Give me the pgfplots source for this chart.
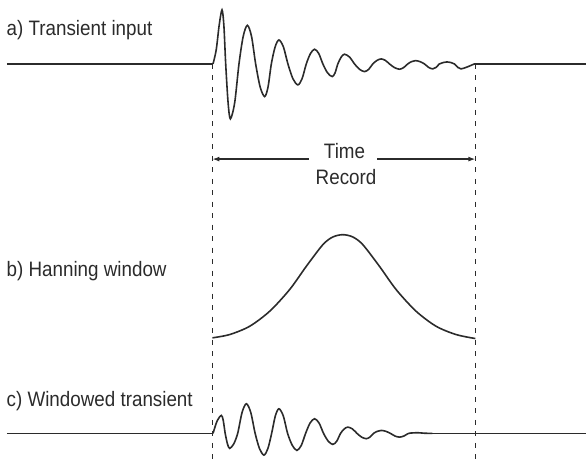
\documentclass[border=0pt]{standalone}
\usepackage{pgfplots}
\pgfplotsset{compat=1.18}
\usepackage{fontspec}
\setmainfont[FakeStretch=0.9]{Liberation Sans}
\usetikzlibrary{arrows.meta}
\definecolor{ink}{HTML}{2B2B2B}

\begin{document}
\begin{tikzpicture}
\begin{axis}[
    hide axis, scale only axis,
    width=587bp, height=466bp,
    xmin=0, xmax=587, ymin=0, ymax=466,
    y dir=reverse, clip=false,
    curve/.style={ink, line width=1.6bp, mark=none, solid},
    guide/.style={ink, line width=1.5bp, mark=none, dash pattern=on 5bp off 6.5bp},
]
% frame for the bounding box
\path (axis cs:0,0) rectangle (axis cs:587,466);

% dashed markers of the time record
\addplot[guide] coordinates {(212.7,64) (212.7,466)};
\addplot[guide] coordinates {(476,64) (476,466)};

% a) transient input
\addplot[curve] coordinates {(7,64) (213.3,64)};
\addplot[curve, smooth] coordinates {
    (213.3,64) (216.5,50) (219.5,25) (222.3,10) (224.2,25.8) (226,64)
    (228.4,102.9) (230.7,119) (235,102.9) (239.3,64)
    (243.5,36.6) (247.7,25.3) (251.9,36.6) (256,64)
    (260.5,87.1) (265,96.7) (268.4,87.1) (271.7,64)
    (275.5,47) (279.3,40) (283.8,47) (288.3,64)
    (293.3,78.8) (298.3,85) (302.5,78.8) (306.7,64)
    (310.9,53.6) (315,49.3) (319.2,53.6) (323.3,64)
    (328,73) (332.7,76.7) (335.5,73) (338.3,64)
    (341.7,57.1) (345,54.3) (350,57.1) (355,64)
    (360,69.4) (365,71.7) (369.2,69.4) (373.3,64)
    (377.5,60.5) (381.7,59) (385.9,60.5) (390,64)
    (395,67.7) (400,69.3) (404.2,67.7) (408.3,64)
    (412.2,61.7) (416,60.7) (420.5,61.7) (425,64)
    (429.2,67.5) (433.3,69) (436.7,67.5) (440,64)
    (443.9,62.6) (447.7,62) (451.4,62.6) (455,64)
    (458.4,67.5) (461.7,69) (468,67) (475,64)
};
\addplot[curve] coordinates {(475,64) (587,64)};

% b) Hanning window
\addplot[curve, smooth] coordinates {
    (212.7,338.3) (230,335) (250,326.7) (270,311.7) (290,290) (306.7,266.7)
    (323.3,245) (333.3,237.3) (343.3,235) (353.3,237.3) (363.3,245)
    (380,266.7) (396.7,290) (416.7,311.7) (436.7,326.7) (456.7,335) (476,339)
};

% c) windowed transient
\addplot[curve] coordinates {(7,434) (213.3,434)};
\addplot[curve, smooth] coordinates {
    (213.3,434) (217.5,421.3) (221.7,416) (223.6,421.3) (225.5,434)
    (227.8,444.6) (230,449) (234,444.6) (238,434)
    (242.4,413) (246.7,404.3) (251.1,413) (255.5,434)
    (259.9,449.3) (264.3,455.7) (268.2,449.3) (272,434)
    (275.7,416.5) (279.3,409.3) (283.7,416.5) (288,434)
    (292.7,446) (297.3,451) (301.7,446) (306,434)
    (310.5,423.6) (315,419.3) (319.5,423.6) (324,434)
    (328.7,441.8) (333.3,445) (337.2,441.8) (341,434)
    (344.7,429.5) (348.3,427.7) (352.9,429.5) (357.5,434)
    (362.1,437.7) (366.7,439.3) (370.4,437.7) (374,434)
    (377.9,431.9) (381.7,431) (386.4,431.9) (391,434)
    (395.5,436.6) (400,437.7) (404.5,436.6) (409,434)
    (413.7,433.5) (418.3,433.3) (425,433.8) (433,434)
};
\addplot[curve] coordinates {(433,434) (587,434)};

% time record arrows
\draw[ink, line width=1.3bp, -{Latex[length=7bp,width=5bp]}] (axis cs:309.3,159.3) -- (axis cs:212.7,159.3);
\draw[ink, line width=1.3bp, -{Latex[length=7bp,width=5bp]}] (axis cs:377.7,159.3) -- (axis cs:476,159.3);

% labels
\begin{scope}[every node/.style={text=ink, inner sep=0pt, font=\fontsize{21}{25}\selectfont}]
\node[anchor=base west] at (axis cs:6.5,36) {a) Transient input};
\node[anchor=base west] at (axis cs:6.5,277) {b) Hanning window};
\node[anchor=base west] at (axis cs:6.5,407) {c) Windowed transient};
\node[anchor=base] at (axis cs:345,158.3) {Time};
\node[anchor=base] at (axis cs:346.5,185) {Record};
\end{scope}
\end{axis}
\end{tikzpicture}
\end{document}
